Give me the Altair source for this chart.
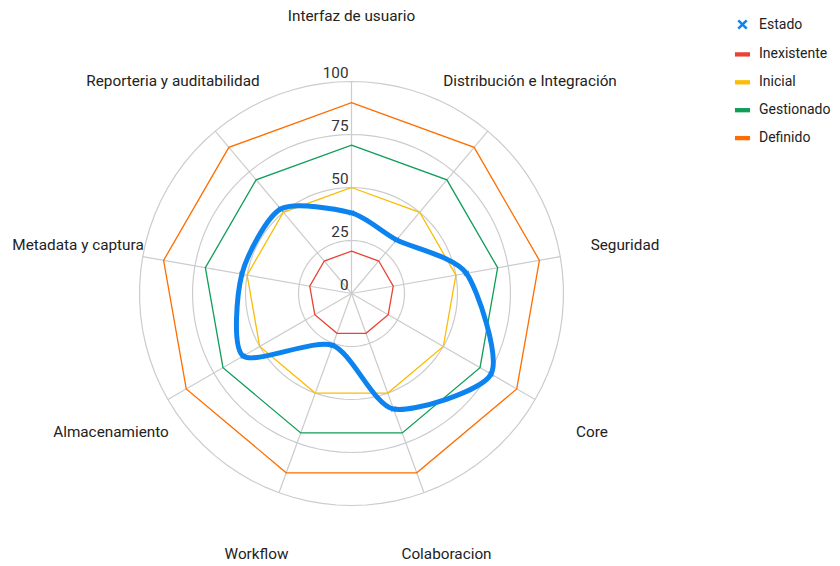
import altair as alt
import pandas as pd

categories = [
    "Interfaz de usuario",
    "Distribución e Integración",
    "Seguridad",
    "Core",
    "Colaboracion",
    "Workflow",
    "Almacenamiento",
    "Metadata y captura",
    "Reporteria y auditabilidad",
]
estado = [38, 33, 55, 76, 58, 26, 59, 52.5, 52]
inexistente = [20, 20, 20, 20, 20, 20, 20, 20, 20]
inicial = [50, 50, 50, 50, 50, 50, 50, 50, 50]
gestionado = [70, 70, 70, 70, 70, 70, 70, 70, 70]
definido = [90, 90, 90, 90, 90, 90, 90, 90, 90]

ring_values = [25, 50, 75, 100]
tick_values = [0, 25, 50, 75, 100]
tick_labels = ["0", "25", "50", "75", "100"]

series_names = ["Estado", "Inexistente", "Inicial", "Gestionado", "Definido"]
series_colors = ["#0c83ee", "#ea4335", "#fbbc04", "#0f9d58", "#ff6d01"]
poly_series = [("Definido", definido, "#ff6d01"), ("Gestionado", gestionado, "#0f9d58"),
               ("Inicial", inicial, "#fbbc04"), ("Inexistente", inexistente, "#ea4335")]

N = len(categories)
ANG = f"datum.idx * 2 * PI / {N}"
FS = 15.3
FONT = "Roboto"

est_df = pd.DataFrame({"category": categories, "idx": list(range(N)), "value": estado})
cat_df = pd.DataFrame({"category": categories, "idx": list(range(N))})
ring_df = pd.DataFrame({"ring": ring_values})
tick_df = pd.DataFrame({"v": tick_values, "label": tick_labels})
leg_df = pd.DataFrame({"series": series_names})

PAD = 8
PX = 2.12
W, H = 808, 540
CX, CY = 351.5 - 2 * PAD, 293.5 - 2 * PAD
xs = alt.Scale(domain=[-CX / PX, (W - CX) / PX], nice=False, zero=False)
ys = alt.Scale(domain=[-(H - CY) / PX, CY / PX], nice=False, zero=False)

def X(f):
    return alt.X(f, scale=xs, axis=None)

def Y(f):
    return alt.Y(f, scale=ys, axis=None)

GRID = "#cccccc"
XPATH = "M-0.6,-0.6L0.6,0.6M-0.6,0.6L0.6,-0.6"
BAR = "M-0.9,-0.13H0.9V0.13H-0.9Z"

rings = alt.Chart(ring_df).transform_calculate(
    deg="sequence(0, 364, 4)"
).transform_flatten(["deg"]).transform_calculate(
    x="datum.ring * sin(datum.deg * PI / 180)",
    y="datum.ring * cos(datum.deg * PI / 180)",
).mark_line(color=GRID, strokeWidth=1.2).encode(
    x=X("x:Q"), y=Y("y:Q"), detail="ring:N", order="deg:Q",
)

spokes = alt.Chart(cat_df).transform_calculate(
    x0="0", y0="0",
    sx=f"100 * sin({ANG})", sy=f"100 * cos({ANG})",
).mark_rule(color=GRID, strokeWidth=1.2).encode(
    x=X("x0:Q"), y=Y("y0:Q"), x2="sx:Q", y2="sy:Q",
)

poly_layers = []
for name, vals, col in poly_series:
    df = pd.DataFrame({"category": categories, "idx": list(range(N)), "value": vals})
    poly_layers.append(
        alt.Chart(df).transform_calculate(
            x=f"datum.value * sin({ANG})", y=f"datum.value * cos({ANG})"
        ).mark_line(interpolate="linear-closed", strokeWidth=1.3, color=col).encode(
            x=X("x:Q"), y=Y("y:Q"), order="idx:Q",
        )
    )

est_line = alt.Chart(est_df).transform_calculate(
    x=f"datum.value * sin({ANG})", y=f"datum.value * cos({ANG})"
).mark_line(interpolate="cardinal-closed", tension=0.25, strokeWidth=5,
            color=series_colors[0]).encode(
    x=X("x:Q"), y=Y("y:Q"), order="idx:Q",
)

est_pts = alt.Chart(est_df).transform_calculate(
    x=f"datum.value * sin({ANG})", y=f"datum.value * cos({ANG})"
).mark_point(shape=XPATH, size=64, filled=False, strokeWidth=1.5,
             color=series_colors[0]).encode(
    x=X("x:Q"), y=Y("y:Q"),
)

ticks = alt.Chart(tick_df).transform_calculate(x0="0").mark_text(
    align="right", baseline="alphabetic", dx=-3, dy=-4, fontSize=FS,
    color="#333333", font=FONT
).encode(
    x=X("x0:Q"), y=Y("v:Q"), text="label:N",
)

labels = alt.Chart(cat_df).transform_calculate(
    lx=f"131 * sin({ANG})", ly=f"131 * cos({ANG})"
).mark_text(
    align="center", baseline="middle", fontSize=FS, color="#222222", font=FONT
).encode(
    x=X("lx:Q"), y=Y("ly:Q"), text="category:N",
)

leg = alt.Legend(
    title=None, orient="none", legendX=726 - PAD, legendY=8 - PAD,
    symbolSize=196, labelOffset=8, rowPadding=11.9,
    labelFontSize=14, labelFont=FONT, labelColor="#222222",
    symbolStrokeWidth=2.5, symbolOpacity=1, padding=0,
)

legend_layer = alt.Chart(leg_df).transform_calculate(x0="0", y0="0").mark_point(
    opacity=0, filled=False, strokeWidth=2.5
).encode(
    x=X("x0:Q"), y=Y("y0:Q"),
    color=alt.Color("series:N", scale=alt.Scale(domain=series_names, range=series_colors), legend=leg),
    shape=alt.Shape("series:N", scale=alt.Scale(domain=series_names, range=[XPATH, BAR, BAR, BAR, BAR]), legend=leg),
)

chart = alt.layer(
    rings, spokes, *poly_layers, est_line, est_pts, ticks, labels, legend_layer
).properties(
    width=W, height=H, padding=PAD, background="white",
    autosize=alt.AutoSizeParams(type="none")
).configure(font=FONT).configure_view(strokeWidth=0, stroke="transparent")

chart.save("out.html", embed_options={"renderer": "svg", "actions": False})
